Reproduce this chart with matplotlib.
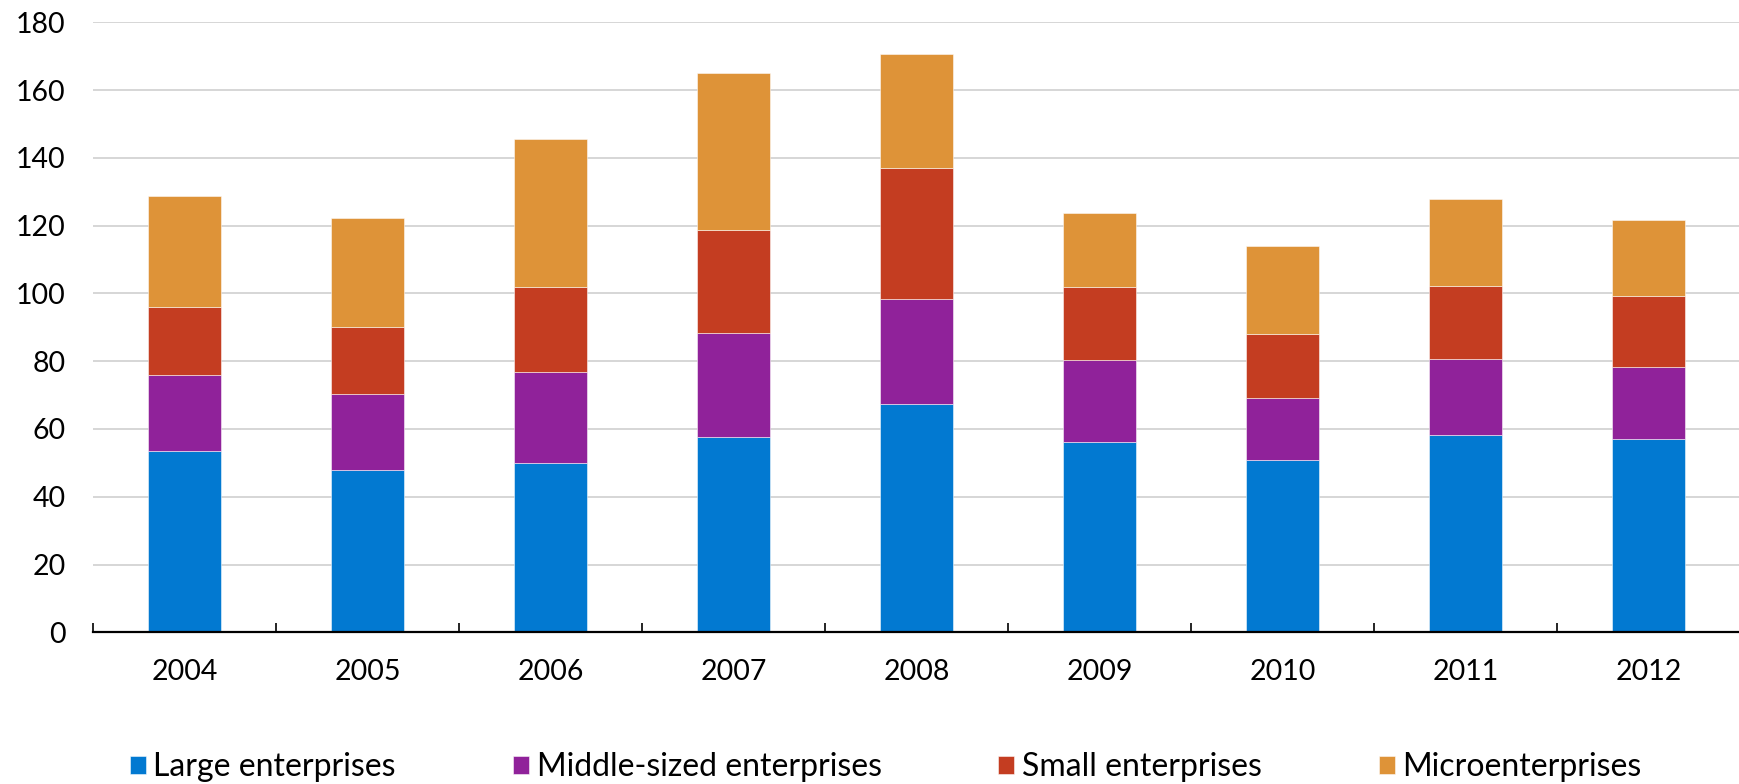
import numpy as np
import matplotlib
matplotlib.use("Agg")
import matplotlib.pyplot as plt

plt.rcParams['font.family'] = ['Lato', 'DejaVu Sans']

years = ['2004', '2005', '2006', '2007', '2008', '2009', '2010', '2011', '2012']
large = [53.4, 47.8, 50.1, 57.5, 67.4, 56.3, 50.7, 58.1, 57.1]
middle = [22.4, 22.4, 26.6, 30.7, 30.9, 24.0, 18.3, 22.5, 21.1]
small = [20.3, 20.0, 25.3, 30.4, 38.7, 21.5, 18.9, 21.7, 20.9]
micro = [32.7, 32.1, 43.6, 46.3, 33.6, 21.9, 26.0, 25.6, 22.6]

series = [
    ('Large enterprises', large, '#0279D1'),
    ('Middle-sized enterprises', middle, '#90229A'),
    ('Small enterprises', small, '#C43D21'),
    ('Microenterprises', micro, '#DE9338'),
]

fig = plt.figure(figsize=(17.4, 7.84), dpi=100)
ax = fig.add_axes([93.2 / 1740, 1 - 632.3 / 784, (1740 - 93.2) / 1740, 610 / 784])

x = np.arange(len(years))
bottom = np.zeros(len(years))
for label, vals, color in series:
    vals = np.array(vals)
    ax.bar(x, vals, width=0.4, bottom=bottom, color=color, label=label,
           edgecolor=(1, 1, 1, 0.6), linewidth=0.6, zorder=3)
    bottom += vals

ax.set_ylim(0, 180)
ax.set_yticks(range(0, 181, 20))
ax.set_xlim(-0.5, 8.447)
ax.set_xticks(x)
ax.set_xticklabels(years)
ax.set_xticks(np.arange(-0.5, 9, 1), minor=True)

ax.grid(axis='y', color='#d3d3d3', linewidth=1.3, zorder=0)
for s in ['top', 'right', 'left']:
    ax.spines[s].set_visible(False)
ax.spines['bottom'].set_linewidth(1.6)
ax.spines['bottom'].set_zorder(4)

ax.tick_params(axis='y', length=0, pad=20, labelsize=20.5)
ax.tick_params(axis='x', which='major', length=0, pad=19, labelsize=20.5)
ax.tick_params(axis='x', which='minor', direction='in', length=6.5, width=1.2)

fig.legend(loc='center', bbox_to_anchor=(0.509, 1 - 767 / 784), ncol=4, frameon=False,
           fontsize=23, handlelength=0.5, handleheight=0.5, handletextpad=0.25,
           columnspacing=3.65)

fig.savefig('out.png', dpi=100)
